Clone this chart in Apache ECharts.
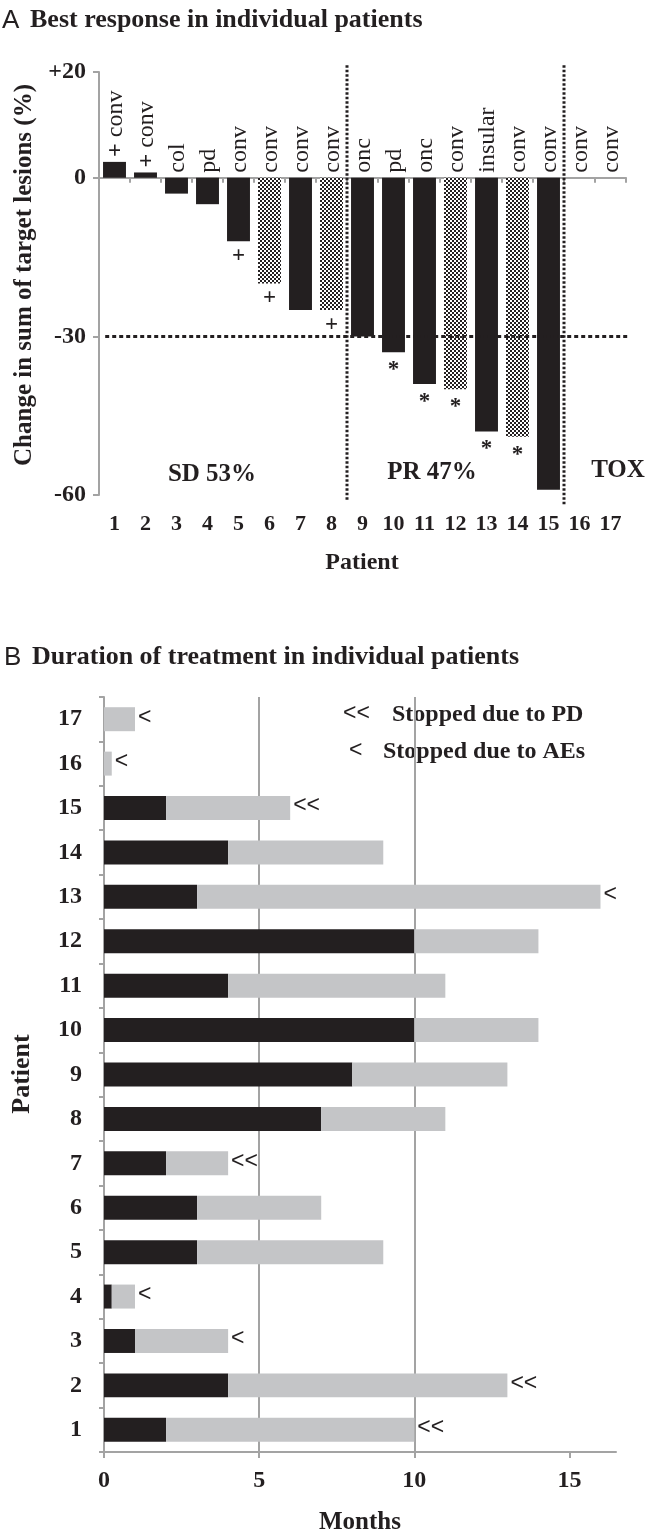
<!DOCTYPE html>
<html><head><meta charset="utf-8">
<script src="https://cdn.jsdelivr.net/npm/echarts@6/dist/echarts.min.js"></script>
<style>html,body{margin:0;padding:0;background:#fff}#c{width:652px;height:1538px}</style>
</head><body><div id="c"></div>
<script>
// ---------- Panel A data ----------
const patients = ['1','2','3','4','5','6','7','8','9','10','11','12','13','14','15','16','17'];
const responseChange = [3, 1, -3, -5, -12, -20, -25, -25, -30, -33, -39, -40, -48, -49, -59, null, null];
const histology = ['conv','conv','col','pd','conv','conv','conv','conv','onc','pd','onc','conv','insular','conv','conv','conv','conv'];
const labelPrefix = ['+','+','','','','','','','','','','','','','','',''];
const belowMarker = ['','','','','+','+','','+','','*','*','*','*','*','','',''];
const checkered = [false,false,false,false,false,true,false,true,false,false,false,true,false,true,false,false,false];
const yTicksA = [20, 0, -30, -60];
const prThreshold = -30;
const groupDividers = [8, 15];
// ---------- Panel B data ----------
const responseMonths = [2, 4, 1, 0.25, 3, 3, 2, 7, 8, 10, 4, 10, 3, 4, 2, 0, 0];
const totalMonths = [10, 13, 4, 1, 9, 7, 4, 11, 13, 14, 11, 14, 16, 9, 6, 0.25, 1];
const stopReason = ['<<','<<','<','<','','','<<','','','','','','<','','<<','<','<'];
const monthTicks = [0, 5, 10, 15];

const DARK = '#231f20', GRAY = '#c4c5c7', AXIS = '#a3a3a3';
const SERIF = '"Liberation Serif", "Times New Roman", serif';
const SANS = '"Liberation Sans", Arial, sans-serif';

// checker pattern
const pc = document.createElement('canvas');
pc.width = 4; pc.height = 4;
const pctx = pc.getContext('2d');
pctx.fillStyle = '#ffffff'; pctx.fillRect(0,0,4,4);
pctx.fillStyle = DARK; pctx.fillRect(0,0,2,2); pctx.fillRect(2,2,2,2);

const chart = echarts.init(document.getElementById('c'), null, {renderer:'canvas'});

const barDataA = responseChange.map((v,i) => ({
  value: v,
  itemStyle: {color: checkered[i] ? {image: pc, repeat: 'repeat'} : DARK}
}));

const option = {
  animation: false,
  backgroundColor: '#ffffff',
  grid: [
    {left: 99, top: 72, width: 527, height: 423},
    {left: 104, top: 697, width: 512, height: 755}
  ],
  xAxis: [
    { // 0 category axis on zero
      type: 'category', gridIndex: 0, data: patients, boundaryGap: true,
      axisLine: {onZero: true, lineStyle: {color: AXIS, width: 2}},
      axisTick: {show: true, interval: 0, length: 5, lineStyle: {color: AXIS, width: 2}},
      axisLabel: {show: false}, splitLine: {show: false}
    },
    { // 1 labels at bottom
      type: 'category', gridIndex: 0, data: patients, position: 'bottom',
      axisLine: {show: false, onZero: false}, axisTick: {show: false},
      axisLabel: {show: true, interval: 0, margin: 18, color: DARK, fontFamily: SERIF, fontWeight: 'bold', fontSize: 22}
    },
    { // 2 hidden value axis for reference lines
      type: 'value', gridIndex: 0, min: 0, max: 17, show: false
    },
    { // 3 months axis
      type: 'value', gridIndex: 1, min: 0, max: 16.5, interval: 5,
      axisLine: {show: true, onZero: false, lineStyle: {color: AXIS, width: 2}},
      axisTick: {show: true, length: 6, customValues: monthTicks, lineStyle: {color: AXIS, width: 2}},
      axisLabel: {customValues: monthTicks, margin: 17, color: DARK, fontFamily: SERIF, fontWeight: 'bold', fontSize: 24},
      splitLine: {show: true, showMinLine: false, showMaxLine: false, lineStyle: {color: AXIS, width: 2}}
    }
  ],
  yAxis: [
    {
      type: 'value', gridIndex: 0, min: -60, max: 20,
      axisLine: {show: true, lineStyle: {color: AXIS, width: 2}},
      axisTick: {show: true, length: 6, customValues: yTicksA, lineStyle: {color: AXIS, width: 2}},
      axisLabel: {customValues: yTicksA, margin: 13, color: DARK, fontFamily: SERIF, fontWeight: 'bold', fontSize: 24,
        formatter: v => v > 0 ? '+' + v : String(v)},
      splitLine: {show: false}
    },
    {
      type: 'category', gridIndex: 1, data: patients, boundaryGap: true,
      axisLine: {show: true, lineStyle: {color: AXIS, width: 2}},
      axisTick: {show: true, interval: 0, length: 5, lineStyle: {color: AXIS, width: 2}},
      axisLabel: {interval: 0, margin: 22, color: DARK, fontFamily: SERIF, fontWeight: 'bold', fontSize: 24},
      splitLine: {show: false}
    }
  ],
  series: [
    {
      type: 'bar', xAxisIndex: 0, yAxisIndex: 0, data: barDataA, barWidth: '74%', z: 3
    },
    { // rotated histology labels
      type: 'custom', xAxisIndex: 0, yAxisIndex: 0, z: 4,
      data: patients.map((p,i) => [i, responseChange[i] > 0 ? responseChange[i] : 0]),
      renderItem: (params, api) => {
        const i = params.dataIndex;
        const pt = api.coord([api.value(0), api.value(1)]);
        const txt = (labelPrefix[i] ? '{b|' + labelPrefix[i] + '} ' : '') + histology[i];
        return {type: 'text', x: pt[0] + 1, y: pt[1] - 5, rotation: Math.PI / 2,
          style: {text: txt, fill: DARK, fontFamily: SERIF, fontSize: 24, align: 'left', verticalAlign: 'middle',
            rich: {b: {fontFamily: SERIF, fontSize: 24, fontWeight: 'bold', fill: DARK}}}};
      }
    },
    { // markers below bars
      type: 'custom', xAxisIndex: 0, yAxisIndex: 0, z: 4,
      data: patients.map((p,i) => [i, responseChange[i] === null ? 0 : responseChange[i]]),
      renderItem: (params, api) => {
        const i = params.dataIndex;
        if (!belowMarker[i]) return null;
        const pt = api.coord([api.value(0), api.value(1)]);
        const star = belowMarker[i] === '*';
        return {type: 'text', x: pt[0], y: pt[1] + (star ? 18 : 15),
          style: {text: belowMarker[i], fill: DARK, fontFamily: SERIF, fontWeight: 'bold', fontSize: 23, align: 'center', verticalAlign: 'middle'}};
      }
    },
    { // -30% threshold line
      type: 'line', xAxisIndex: 2, yAxisIndex: 0, clip: false, symbol: 'none', silent: true, z: 5,
      data: [[0.2, prThreshold], [17.23, prThreshold]],
      lineStyle: {color: DARK, width: 3, type: [4, 3]}
    },
    { // group dividers
      type: 'line', xAxisIndex: 2, yAxisIndex: 0, clip: false, symbol: 'none', silent: true, z: 5,
      data: [[groupDividers[0], 21.3], [groupDividers[0], -61]],
      lineStyle: {color: DARK, width: 3, type: [2.5, 2]}
    },
    {
      type: 'line', xAxisIndex: 2, yAxisIndex: 0, clip: false, symbol: 'none', silent: true, z: 5,
      data: [[groupDividers[1], 21.3], [groupDividers[1], -62]],
      lineStyle: {color: DARK, width: 3, type: [2.5, 2]}
    },
    // ---------- Panel B ----------
    {
      type: 'bar', xAxisIndex: 3, yAxisIndex: 1, stack: 'dur', data: responseMonths, barWidth: '54%',
      itemStyle: {color: DARK}, z: 3
    },
    {
      type: 'bar', xAxisIndex: 3, yAxisIndex: 1, stack: 'dur', data: totalMonths.map((t,i) => +(t - responseMonths[i]).toFixed(2)), barWidth: '54%',
      itemStyle: {color: GRAY}, z: 3
    },
    {
      type: 'custom', xAxisIndex: 3, yAxisIndex: 1, z: 4,
      data: totalMonths.map((t,i) => [t, i]),
      renderItem: (params, api) => {
        const i = params.dataIndex;
        if (!stopReason[i]) return null;
        const pt = api.coord([api.value(0), api.value(1)]);
        return {type: 'text', x: pt[0] + 3, y: pt[1] - 2,
          style: {text: stopReason[i], fill: DARK, fontFamily: SANS, fontSize: 23, align: 'left', verticalAlign: 'middle'}};
      }
    }
  ],
  graphic: [
    {type: 'text', left: 2, top: 8, style: {text: 'A', fill: DARK, font: '26px ' + SANS}},
    {type: 'text', left: 30, top: 7, style: {text: 'Best response in individual patients', fill: DARK, font: 'bold 26px ' + SERIF}},
    {type: 'text', x: 25, y: 275, rotation: Math.PI/2, style: {text: 'Change in sum of target lesions (%)', fill: DARK, font: 'bold 25px ' + SERIF, align: 'center', verticalAlign: 'middle'}},
    {type: 'text', x: 362, y: 563, style: {text: 'Patient', fill: DARK, font: 'bold 24px ' + SERIF, align: 'center', verticalAlign: 'middle'}},
    {type: 'text', x: 212, y: 475, style: {text: 'SD 53%', fill: DARK, font: 'bold 25px ' + SERIF, align: 'center', verticalAlign: 'middle'}},
    {type: 'text', x: 432, y: 473, style: {text: 'PR 47%', fill: DARK, font: 'bold 25px ' + SERIF, align: 'center', verticalAlign: 'middle'}},
    {type: 'text', x: 618, y: 471, style: {text: 'TOX', fill: DARK, font: 'bold 25px ' + SERIF, align: 'center', verticalAlign: 'middle'}},
    {type: 'text', left: 4, top: 645, style: {text: 'B', fill: DARK, font: '26px ' + SANS}},
    {type: 'text', left: 32, top: 644, style: {text: 'Duration of treatment in individual patients', fill: DARK, font: 'bold 26px ' + SERIF}},
    {type: 'text', x: 343, y: 714, style: {text: '<<', fill: DARK, font: '23px ' + SANS, align: 'left', verticalAlign: 'middle'}},
    {type: 'text', x: 392, y: 715, style: {text: 'Stopped due to PD', fill: DARK, font: 'bold 24px ' + SERIF, align: 'left', verticalAlign: 'middle'}},
    {type: 'text', x: 349, y: 751, style: {text: '<', fill: DARK, font: '23px ' + SANS, align: 'left', verticalAlign: 'middle'}},
    {type: 'text', x: 383, y: 752, style: {text: 'Stopped due to AEs', fill: DARK, font: 'bold 24px ' + SERIF, align: 'left', verticalAlign: 'middle'}},
    {type: 'text', x: 22, y: 1074, rotation: Math.PI/2, style: {text: 'Patient', fill: DARK, font: 'bold 26px ' + SERIF, align: 'center', verticalAlign: 'middle'}},
    {type: 'text', x: 360, y: 1523, style: {text: 'Months', fill: DARK, font: 'bold 25px ' + SERIF, align: 'center', verticalAlign: 'middle'}}
  ]
};
chart.setOption(option);
</script>
</body></html>
